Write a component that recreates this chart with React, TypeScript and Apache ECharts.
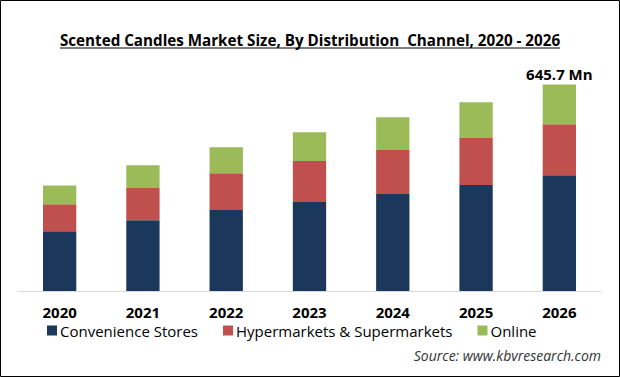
import React, { useEffect, useRef } from "react";
import * as echarts from "echarts";

const years = ["2020", "2021", "2022", "2023", "2024", "2025", "2026"];
const convenienceStores = [187, 221, 253, 278, 303, 331, 362.0];
const hypermarkets = [84, 101, 115, 128, 138, 147, 158.9];
const online = [59, 71, 81, 90, 102, 112, 124.8];
const seriesNames = ["Convenience Stores", "Hypermarkets & Supermarkets", "Online"];
const lastLabel = "645.7 Mn";
const titleText = "Scented Candles Market Size, By Distribution  Channel, 2020 - 2026";
const sourceText = "Source: www.kbvresearch.com";

const FONT = "'Open Sans', 'Noto Sans', sans-serif";

function measure(text: string, font: string): number {
  const c = document.createElement("canvas");
  const ctx = c.getContext("2d");
  if (!ctx) return 500;
  ctx.font = font;
  return ctx.measureText(text).width;
}

export default function App() {
  const ref = useRef<HTMLDivElement>(null);
  useEffect(() => {
    document.body.style.margin = "0";
    if (!ref.current) return;
    const chart = echarts.init(ref.current, undefined, { renderer: "svg" });
    const titleSize = 15.2;
    const tw = measure(titleText, `bold ${titleSize}px 'Open Sans'`);
    const onlineData = online.map((v, i) =>
      i === online.length - 1
        ? {
            value: v,
            label: {
              show: true,
              position: "top",
              distance: 3,
              formatter: lastLabel,
              color: "#000",
              fontFamily: FONT,
              fontWeight: "bold",
              fontSize: 15,
            },
          }
        : v
    );
    chart.setOption({
      animation: false,
      backgroundColor: "#fff",
      grid: { left: 18, right: 19, top: 67, bottom: 86 },
      legend: {
        data: seriesNames,
        left: 42,
        top: 318,
        itemWidth: 10,
        itemHeight: 10,
        itemGap: 25,
        icon: "rect",
        textStyle: { fontFamily: FONT, fontSize: 15, color: "#000", padding: [0, 0, 0, -2] },
      },
      xAxis: {
        type: "category",
        data: years,
        axisLine: { lineStyle: { color: "#d9d9d9", width: 1 } },
        axisTick: { show: false },
        axisLabel: { color: "#000", fontFamily: FONT, fontWeight: "bold", fontSize: 15, margin: 13 },
      },
      yAxis: { type: "value", min: 0, max: 700, show: false, splitLine: { show: false } },
      series: [
        { name: seriesNames[0], type: "bar", stack: "t", data: convenienceStores, barWidth: "40%", itemStyle: { color: "#1b375c" } },
        { name: seriesNames[1], type: "bar", stack: "t", data: hypermarkets, barWidth: "40%", itemStyle: { color: "#c0504d" } },
        { name: seriesNames[2], type: "bar", stack: "t", data: onlineData, barWidth: "40%", itemStyle: { color: "#9bbb59" } },
      ],
      graphic: [
        {
          type: "rect",
          shape: { x: 0.5, y: 0.5, width: 619, height: 376 },
          style: { fill: "none", stroke: "#000", lineWidth: 1 },
          z: 100,
        },
        {
          type: "text",
          x: 310,
          y: 40,
          style: {
            text: titleText,
            fontFamily: FONT,
            fontWeight: "bold",
            fontSize: titleSize,
            fill: "#000",
            align: "center",
            verticalAlign: "middle",
          },
        },
        {
          type: "line",
          shape: { x1: 310 - tw / 2, y1: 48, x2: 310 + tw / 2, y2: 48 },
          style: { stroke: "#000", lineWidth: 1 },
        },
        {
          type: "text",
          right: 19,
          top: 348,
          style: {
            text: sourceText,
            fontFamily: FONT,
            fontStyle: "italic",
            fontSize: 14,
            fill: "#333",
          },
        },
      ],
    });
    return () => chart.dispose();
  }, []);
  return <div ref={ref} style={{ position: "absolute", left: 0, top: 0, width: 620, height: 377 }} />;
}
